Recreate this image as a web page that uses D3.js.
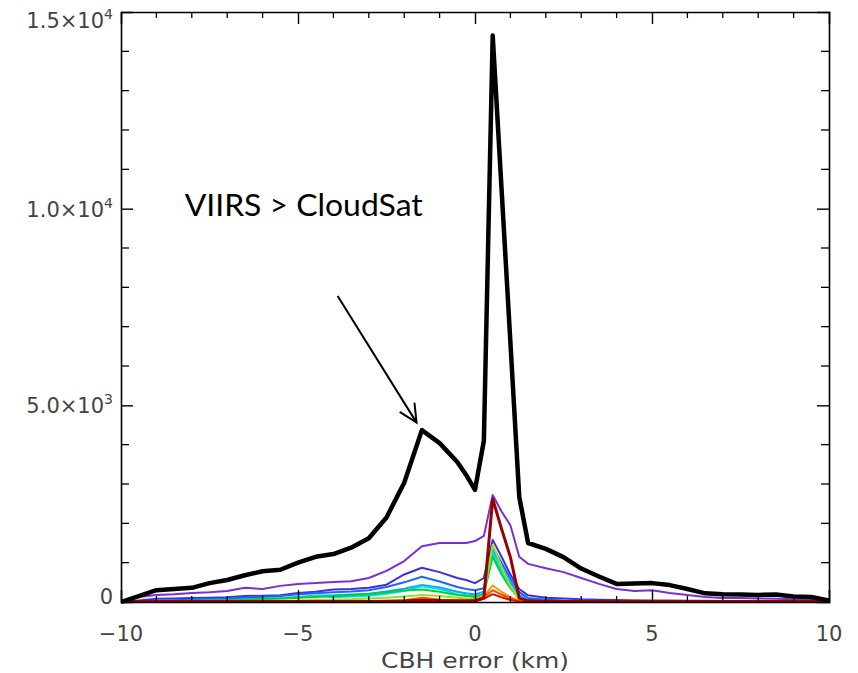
<!DOCTYPE html>
<html>
<head>
<meta charset="utf-8">
<script src="https://cdn.jsdelivr.net/npm/d3@7"></script>
<style>
  body { margin: 0; background: #fff; }
  svg { display: block; }
  .tick-label { font-family: "DejaVu Sans", sans-serif; font-size: 21px; fill: #444; }
  .note { font-family: Lato, "Open Sans", sans-serif; font-size: 30px; fill: #000; }
</style>
</head>
<body>
<div id="chart"></div>
<script>
// CBH error bins (km)
const bins = [-10, -9.5, -9, -8.5, -8, -7.5, -7, -6.5, -6, -5.5, -5, -4.5, -4, -3.5, -3, -2.5, -2, -1.5, -1, -0.5,
  -0.25, 0, 0.25, 0.5, 0.75, 1, 1.25, 1.5, 2, 2.5, 3, 3.5, 4, 4.5, 5, 5.5, 6, 6.5, 7, 7.5, 8, 8.5, 9, 9.5, 10];

const total = [0, 150, 300, 330, 360, 480, 560, 680, 780, 820, 1000, 1150, 1220, 1380, 1620, 2150, 3030, 4370, 4040, 3560,
  3230, 2850, 4100, 14400, 10500, 6600, 2670, 1500, 1350, 1140, 850, 650, 460, 470, 480, 430, 330, 220, 200, 190, 180, 190, 140, 125, 40];

const purple = [0, 130, 180, 200, 230, 250, 280, 360, 330, 410, 460, 480, 510, 530, 610, 790, 1040, 1420, 1500, 1500,
  1500, 1550, 1680, 2720, 2300, 1950, 1150, 970, 860, 760, 610, 460, 330, 280, 300, 230, 180, 130, 100, 100, 90, 80, 70, 60, 30];
const indigo = [0, 40, 80, 90, 100, 110, 120, 150, 160, 170, 230, 260, 320, 330, 360, 440, 700, 870, 760, 610,
  560, 480, 610, 1580, 1150, 700, 330, 170, 110, 90, 70, 60, 50, 40, 40, 35, 30, 30, 25, 25, 20, 20, 15, 15, 10];
const blue = [0, 20, 30, 45, 60, 75, 90, 110, 130, 150, 200, 220, 250, 270, 300, 380, 500, 640, 520, 380,
  330, 300, 350, 1400, 1000, 600, 250, 100, 60, 40, 30, 25, 20, 20, 15, 15, 12, 10, 10, 10, 8, 8, 6, 5, 3];
const skyblue = [0, 5, 10, 20, 30, 40, 50, 70, 80, 100, 130, 160, 170, 190, 210, 270, 340, 430, 370, 260,
  220, 190, 260, 1330, 900, 500, 180, 60, 30, 20, 15, 12, 10, 8, 6, 5, 5, 4, 4, 3, 3, 2, 2, 2, 0];
const cyan = [0, 0, 5, 10, 20, 30, 40, 60, 70, 90, 110, 160, 120, 140, 160, 210, 280, 400, 330, 200,
  170, 140, 220, 1250, 800, 400, 100, 30, 15, 10, 8, 6, 5, 4, 3, 3, 2, 2, 2, 1, 1, 1, 1, 1, 0];
const green = [0, 0, 0, 5, 30, 40, 50, 60, 80, 90, 110, 130, 150, 170, 200, 250, 290, 320, 260, 180,
  150, 130, 200, 1150, 700, 350, 80, 20, 10, 8, 6, 5, 4, 3, 3, 2, 2, 2, 1, 1, 1, 1, 0, 0, 0];
const lime = [0, 0, 0, 0, 5, 10, 15, 20, 25, 30, 40, 50, 60, 70, 90, 110, 140, 180, 150, 110,
  90, 80, 170, 1450, 900, 400, 60, 10, 5, 4, 3, 3, 2, 2, 2, 1, 1, 1, 1, 1, 0, 0, 0, 0, 0];
const orange = [0, 0, 0, 0, 0, 0, 0, 2, 3, 5, 8, 10, 12, 15, 20, 30, 50, 80, 60, 50,
  50, 60, 150, 420, 260, 120, 30, 5, 2, 1, 1, 1, 0, 0, 0, 0, 0, 0, 0, 0, 0, 0, 0, 0, 0];
const redorange = [0, 0, 0, 0, 0, 0, 0, 0, 0, 2, 3, 5, 6, 8, 10, 20, 40, 110, 60, 40,
  40, 50, 120, 300, 190, 90, 20, 3, 1, 0, 0, 0, 0, 0, 0, 0, 0, 0, 0, 0, 0, 0, 0, 0, 0];
const red = [0, 0, 0, 0, 0, 0, 0, 0, 0, 0, 2, 3, 4, 5, 6, 10, 25, 60, 40, 30,
  30, 30, 80, 200, 120, 50, 10, 2, 1, 2, 3, 5, 8, 10, 6, 4, 3, 2, 1, 1, 0, 0, 0, 0, 0];
const darkred = [10, 15, 15, 15, 15, 15, 15, 15, 15, 15, 15, 15, 15, 15, 15, 20, 25, 40, 30, 25,
  25, 25, 100, 2620, 1860, 1140, 100, 30, 20, 15, 15, 15, 15, 20, 15, 15, 15, 15, 15, 15, 15, 15, 15, 15, 10];

const seriesColors = ["#7b2fd0", "#3f30dc", "#2064ff", "#00a8ff", "#00dcec", "#00d040", "#98e020",
  "#ff9800", "#ff4800", "#e01000", "#990000"];
const seriesValues = [purple, indigo, blue, skyblue, cyan, green, lime, orange, redorange, red, darkred];

const xTicks = [-10, -5, 0, 5, 10];
const yTicks = [0, 5000, 10000, 15000];
const yTickLabels = ["0", "5.0×10|3", "1.0×10|4", "1.5×10|4"];

const width = 858, height = 673;
const margin = { top: 12, right: 29, bottom: 71, left: 121 };

const svg = d3.select("#chart").append("svg")
  .attr("width", width)
  .attr("height", height);

const x = d3.scaleLinear().domain([-10, 10]).range([margin.left, width - margin.right]);
const y = d3.scaleLinear().domain([0, 15000]).range([height - margin.bottom, margin.top]);

svg.append("clipPath").attr("id", "plotClip")
  .append("rect")
  .attr("x", margin.left).attr("y", margin.top - 4)
  .attr("width", width - margin.left - margin.right)
  .attr("height", height - margin.top - margin.bottom + 6);

const line = d3.line()
  .x((d, i) => x(bins[i]))
  .y(d => y(d));

const plot = svg.append("g").attr("clip-path", "url(#plotClip)");

plot.selectAll("path.series")
  .data(seriesValues)
  .join("path")
  .attr("class", "series")
  .attr("fill", "none")
  .attr("stroke", (d, i) => seriesColors[i])
  .attr("stroke-width", (d, i) => i === seriesValues.length - 1 ? 3 : 2)
  .attr("stroke-linejoin", "round")
  .attr("d", line);

plot.append("path")
  .datum(total)
  .attr("fill", "none")
  .attr("stroke", "#000")
  .attr("stroke-width", 4.5)
  .attr("stroke-linejoin", "round")
  .attr("d", line);

// axes: ticks point inward on all four sides
const xMinor = d3.range(-9, 10, 1).filter(v => v % 5 !== 0);
const yMinor = d3.range(1000, 15000, 1000).filter(v => v % 5000 !== 0);

const bottomAxis = d3.axisBottom(x).tickValues(xTicks).tickSize(-12).tickFormat("");
const topAxis = d3.axisTop(x).tickValues(xTicks).tickSize(-12).tickFormat("");
const leftAxis = d3.axisLeft(y).tickValues(yTicks).tickSize(-12).tickFormat("");
const rightAxis = d3.axisRight(y).tickValues(yTicks).tickSize(-12).tickFormat("");

function styleAxis(g) {
  g.selectAll("path.domain").attr("stroke", "#000").attr("stroke-width", 1.6);
  g.selectAll(".tick line").attr("stroke", "#000").attr("stroke-width", 1.4);
}

svg.append("g").attr("transform", `translate(0,${y(0)})`).call(bottomAxis).call(styleAxis)
  .call(g => g.selectAll(".tick").filter(d => d === -10 || d === 10).remove());
svg.append("g").attr("transform", `translate(0,${y(15000)})`).call(topAxis).call(styleAxis)
  .call(g => g.selectAll(".tick").filter(d => d === -10 || d === 10).remove());
svg.append("g").attr("transform", `translate(${x(-10)},0)`).call(leftAxis).call(styleAxis)
  .call(g => g.selectAll(".tick").filter(d => d === 0 || d === 15000).remove());
svg.append("g").attr("transform", `translate(${x(10)},0)`).call(rightAxis).call(styleAxis)
  .call(g => g.selectAll(".tick").filter(d => d === 0 || d === 15000).remove());

const minor = svg.append("g").attr("stroke", "#000").attr("stroke-width", 1.3);
xMinor.forEach(v => {
  minor.append("line").attr("x1", x(v)).attr("x2", x(v)).attr("y1", y(0)).attr("y2", y(0) - 6);
  minor.append("line").attr("x1", x(v)).attr("x2", x(v)).attr("y1", y(15000)).attr("y2", y(15000) + 6);
});
yMinor.forEach(v => {
  minor.append("line").attr("x1", x(-10)).attr("x2", x(-10) + 8).attr("y1", y(v)).attr("y2", y(v));
  minor.append("line").attr("x1", x(10)).attr("x2", x(10) - 8).attr("y1", y(v)).attr("y2", y(v));
});

// tick labels
svg.append("g").selectAll("text")
  .data(xTicks)
  .join("text")
  .attr("class", "tick-label")
  .attr("x", d => x(d))
  .attr("y", y(0) + 39)
  .attr("text-anchor", "middle")
  .text(d => d < 0 ? "\u2212" + Math.abs(d) : d);

// IDL nudges the end labels inside the frame
const yl = svg.append("g").selectAll("text")
  .data(yTicks)
  .join("text")
  .attr("class", "tick-label")
  .attr("x", x(-10) - 8)
  .attr("y", d => d === 0 ? y(d) + 2 : d === 15000 ? y(d) + 16 : y(d) + 8)
  .attr("text-anchor", "end");
yl.each(function (d, i) {
  const parts = yTickLabels[i].split("|");
  const t = d3.select(this);
  t.append("tspan").text(parts[0]);
  if (parts[1]) {
    t.append("tspan").attr("dy", -9).attr("font-size", "14px").text(parts[1]);
  }
});

svg.append("text")
  .attr("class", "tick-label")
  .attr("x", x(0))
  .attr("y", 668)
  .attr("text-anchor", "middle")
  .attr("textLength", 188)
  .attr("lengthAdjust", "spacingAndGlyphs")
  .text("CBH error (km)");

// annotation
svg.append("text")
  .attr("class", "note")
  .attr("x", x(-8.2))
  .attr("y", y(9820))
  .attr("textLength", 238)
  .attr("lengthAdjust", "spacingAndGlyphs")
  .text("VIIRS > CloudSat");

const tip = [x(-1.65), y(4560)];
const tail = [x(-3.88), y(7780)];
const ang = Math.atan2(tip[1] - tail[1], tip[0] - tail[0]);
const head = 20, spread = 0.45;
svg.append("path")
  .attr("fill", "none")
  .attr("stroke", "#000")
  .attr("stroke-width", 2)
  .attr("d", `M${tail[0]},${tail[1]}L${tip[0]},${tip[1]}` +
    `M${tip[0] - head * Math.cos(ang - spread)},${tip[1] - head * Math.sin(ang - spread)}L${tip[0]},${tip[1]}` +
    `L${tip[0] - head * Math.cos(ang + spread)},${tip[1] - head * Math.sin(ang + spread)}`);
</script>
</body>
</html>
